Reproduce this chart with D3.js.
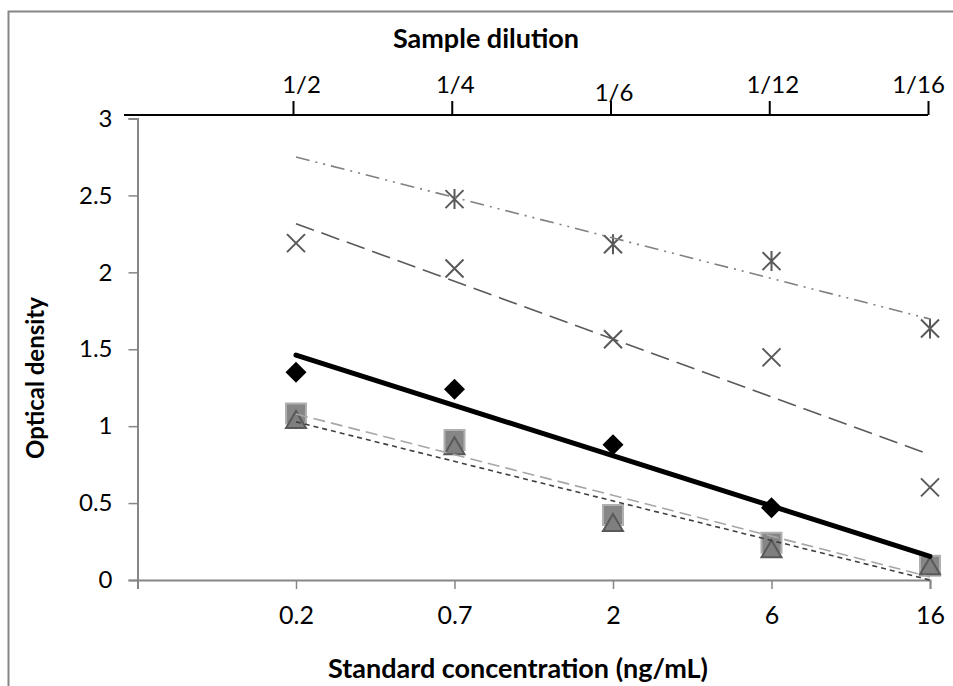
<!DOCTYPE html>
<html>
<head>
<meta charset="utf-8">
<script src="https://cdn.jsdelivr.net/npm/d3@7"></script>
<style>
  body { margin: 0; background: #fff; }
  text { font-family: Lato, "Open Sans", sans-serif; }
</style>
</head>
<body>
<div id="chart"></div>
<script>
var W = 953, H = 686;

// data
var concentrations = ["0.2", "0.7", "2", "6", "16"];
var dilutions = ["1/2", "1/4", "1/6", "1/12", "1/16"];
var yTicks = [0, 0.5, 1, 1.5, 2, 2.5, 3];

var diamondVals  = [1.35, 1.24, 0.88, 0.47, 0.10];
var crossVals    = [2.19, 2.025, 1.565, 1.447, 0.602];
var starVals     = [null, 2.476, 2.183, 2.073, 1.635];
var squareVals   = [1.083, 0.91, 0.422, 0.242, 0.093];
var triangleVals = [1.04, 0.87, 0.37, 0.20, 0.09];

// drawing order: diamonds sit under the squares/triangles
var series = [
  { vals: diamondVals,  marker: "diamond",  line: "#000000", width: 5,   dash: null },
  { vals: squareVals,   marker: "square",   line: "#a6a6a6", width: 1.6, dash: "12,6" },
  { vals: triangleVals, marker: "triangle", line: "#404040", width: 1.6, dash: "5,4" },
  { vals: crossVals,    marker: "cross",    line: "#595959", width: 1.6, dash: "19,8" },
  { vals: starVals,     marker: "star",     line: "#808080", width: 1.6, dash: "14,6,2,6,2,6" }
];

var svg = d3.select("#chart").append("svg")
  .attr("width", W)
  .attr("height", H);

// outer chart frame
svg.append("rect")
  .attr("x", 8.5).attr("y", 11.5)
  .attr("width", W + 20).attr("height", H + 20)
  .attr("fill", "none")
  .attr("stroke", "#868686")
  .attr("stroke-width", 2);

var x = d3.scaleLinear().domain([0, 5]).range([137.5, 930]);
var y = d3.scaleLinear().domain([0, 3]).range([580, 118.5]);
var xTop = d3.scalePoint().domain(dilutions).range([x(1) - 3, x(5) - 2]);

// y axis
var yAxis = svg.append("g")
  .attr("transform", "translate(" + x(0) + ",0)")
  .call(d3.axisLeft(y).tickValues(yTicks).tickSize(9).tickPadding(16)
    .tickFormat(function(d) { return String(d); }));
yAxis.select(".domain").attr("stroke", "#868686").attr("stroke-width", 2);
yAxis.selectAll(".tick line").attr("stroke", "#868686").attr("stroke-width", 1.5);
yAxis.selectAll(".tick text").attr("font-size", 24).attr("fill", "#000");

// bottom axis
var xAxis = svg.append("g")
  .attr("transform", "translate(0," + y(0) + ")")
  .call(d3.axisBottom(x).tickValues([0, 1, 2, 3, 4, 5]).tickSize(9).tickPadding(17)
    .tickFormat(function(i) { return i ? concentrations[i - 1] : ""; }));
xAxis.select(".domain").attr("stroke", "#868686").attr("stroke-width", 2);
xAxis.selectAll(".tick line").attr("stroke", "#868686").attr("stroke-width", 1.5);
xAxis.selectAll(".tick text").attr("font-size", 25).attr("fill", "#000");

// top axis (sample dilution)
var topAxis = svg.append("g")
  .attr("transform", "translate(0,115)")
  .call(d3.axisTop(xTop).tickSize(14).tickSizeOuter(0).tickPadding(8));
topAxis.select(".domain")
  .attr("d", "M124,0H" + xTop(dilutions[4]))
  .attr("stroke", "#000").attr("stroke-width", 2);
topAxis.selectAll(".tick line").attr("stroke", "#000").attr("stroke-width", 2);
topAxis.selectAll(".tick text")
  .attr("font-size", 24).attr("fill", "#000")
  .attr("dx", function(d, i) { return i === 0 ? 8 : (i === 4 ? -10 : 3); })
  .attr("dy", function(d) { return d === "1/6" ? "8" : "0"; });

// axis titles
svg.append("text")
  .attr("x", 486).attr("y", 48)
  .attr("text-anchor", "middle")
  .attr("font-size", 27).attr("font-weight", "bold")
  .text("Sample dilution");

svg.append("text")
  .attr("x", 518).attr("y", 678)
  .attr("text-anchor", "middle")
  .attr("font-size", 27).attr("font-weight", "bold")
  .text("Standard concentration (ng/mL)");

svg.append("text")
  .attr("transform", "translate(44,378) rotate(-90)")
  .attr("text-anchor", "middle")
  .attr("font-size", 24).attr("font-weight", "bold")
  .text("Optical density");

// markers
function markerPath(type) {
  switch (type) {
    case "diamond": return "M0,-10.5L10.5,0L0,10.5L-10.5,0Z";
    case "square": return "M-10,-10H10V10H-10Z";
    case "triangle": return "M0,-9L10,8H-10Z";
    case "cross": return "M-9,-9L9,9M9,-9L-9,9";
    case "star": return "M-9,-9L9,9M9,-9L-9,9M0,-10V10";
  }
}
var markerStyle = {
  diamond:  { fill: "#000", stroke: "none", sw: 0 },
  square:   { fill: "#868686", stroke: "#b0b0b0", sw: 2 },
  triangle: { fill: "#7f7f7f", stroke: "#595959", sw: 2 },
  cross:    { fill: "none", stroke: "#595959", sw: 2 },
  star:     { fill: "none", stroke: "#595959", sw: 2 }
};

series.forEach(function(s) {
  var pts = s.vals.map(function(v, i) { return { i: i + 1, v: v }; })
    .filter(function(p) { return p.v !== null; });
  var st = markerStyle[s.marker];
  svg.append("g").selectAll("path")
    .data(pts)
    .enter().append("path")
    .attr("transform", function(p) { return "translate(" + x(p.i) + "," + y(p.v) + ")"; })
    .attr("d", markerPath(s.marker))
    .attr("fill", st.fill)
    .attr("stroke", st.stroke)
    .attr("stroke-width", st.sw);
});

// linear trendlines (least squares over category index)
function fit(pts) {
  var mx = d3.mean(pts, function(p) { return p.i; });
  var my = d3.mean(pts, function(p) { return p.v; });
  var num = d3.sum(pts, function(p) { return (p.i - mx) * (p.v - my); });
  var den = d3.sum(pts, function(p) { return (p.i - mx) * (p.i - mx); });
  var b = num / den;
  return function(i) { return my + b * (i - mx); };
}

var line = d3.line()
  .x(function(d) { return x(d[0]); })
  .y(function(d) { return y(d[1]); });

series.forEach(function(s) {
  var pts = s.vals.map(function(v, i) { return { i: i + 1, v: v }; })
    .filter(function(p) { return p.v !== null; });
  var f = fit(pts);
  svg.append("path")
    .datum([[1, f(1)], [5, f(5)]])
    .attr("d", line)
    .attr("fill", "none")
    .attr("stroke", s.line)
    .attr("stroke-width", s.width)
    .attr("stroke-linecap", s.dash ? "butt" : "round")
    .attr("stroke-dasharray", s.dash);
});
</script>
</body>
</html>
